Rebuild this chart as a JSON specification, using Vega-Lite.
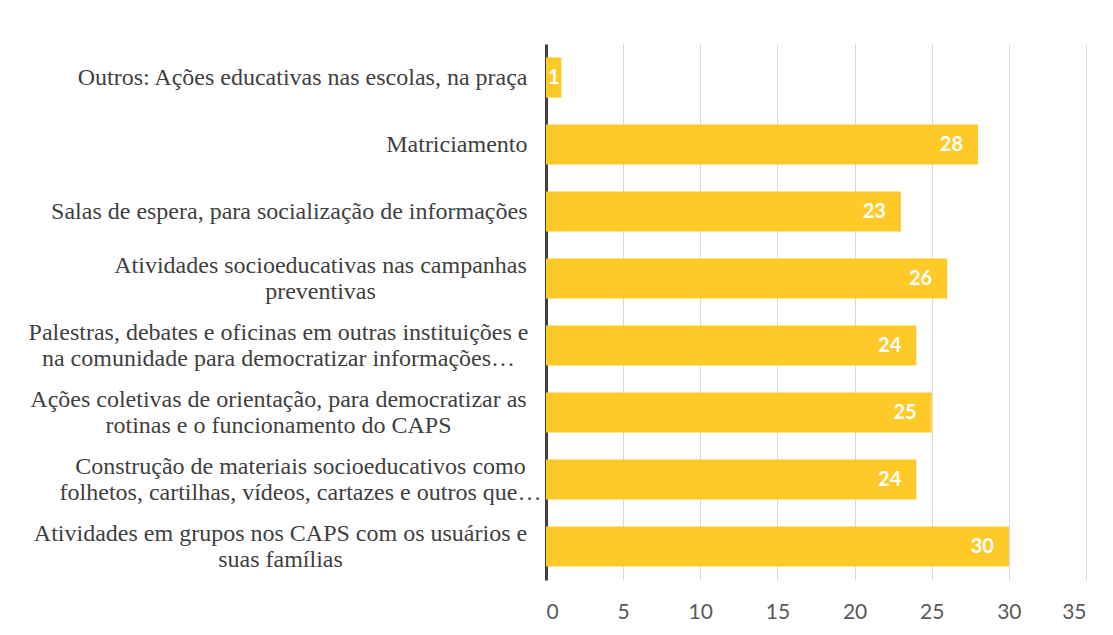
{
  "$schema": "https://vega.github.io/schema/vega-lite/v6.json",
  "width": 540,
  "height": 536,
  "autosize": "none",
  "padding": {"left": 546, "top": 44, "right": 27, "bottom": 55},
  "background": "white",
  "config": {"view": {"stroke": null}},
  "data": {
    "values": [
      {"categoria": "Outros: Ações educativas nas escolas, na praça", "valor": 1},
      {"categoria": "Matriciamento", "valor": 28},
      {"categoria": "Salas de espera, para socialização de informações", "valor": 23},
      {"categoria": "Atividades socioeducativas nas campanhas|preventivas", "valor": 26},
      {"categoria": "Palestras, debates e oficinas em outras instituições e|na comunidade para democratizar informações…", "valor": 24},
      {"categoria": "Ações coletivas de orientação, para democratizar as|rotinas e o funcionamento do CAPS", "valor": 25},
      {"categoria": "Construção de materiais socioeducativos como|folhetos, cartilhas, vídeos, cartazes e outros que…", "valor": 24},
      {"categoria": "Atividades em grupos nos CAPS com os usuários e|suas famílias", "valor": 30}
    ]
  },
  "encoding": {
    "y": {
      "field": "categoria",
      "type": "nominal",
      "sort": null,
      "scale": {"paddingInner": 0.4, "paddingOuter": 0.2},
      "axis": {
        "title": null,
        "ticks": false,
        "tickSize": 0,
        "grid": false,
        "domain": true,
        "domainColor": "#404040",
        "domainWidth": 3,
        "labelExpr": "split(datum.value, '|')",
        "labelFont": "Liberation Serif",
        "labelFontSize": 24,
        "labelLineHeight": 26,
        "labelColor": "#3F3F3F",
        "labelLimit": 0,
        "labelAlign": {"condition": {"test": "indexof(datum.value, '|') >= 0", "value": "center"}, "value": "right"},
        "labelOffset": {"condition": {"test": "indexof(datum.value, '|') >= 0", "value": -13}, "value": 0},
        "labelPadding": {"expr": "indexof(datum.value, 'Atividades socio') == 0 ? 226 : indexof(datum.value, 'Palestras') == 0 ? 268 : indexof(datum.value, 'Ações coletivas') == 0 ? 268 : indexof(datum.value, 'Construção') == 0 ? 246 : indexof(datum.value, 'Atividades em') == 0 ? 266 : 19"}
      }
    }
  },
  "layer": [
    {
      "mark": {"type": "bar", "color": "#FFC928"},
      "encoding": {
        "x": {
          "field": "valor",
          "type": "quantitative",
          "scale": {"domain": [0, 35], "nice": false},
          "axis": {
            "title": null,
            "values": [0, 5, 10, 15, 20, 25, 30, 35],
            "domain": false,
            "ticks": false,
            "tickSize": 0,
            "grid": true,
            "gridColor": "#D9D9D9",
            "gridWidth": 1,
            "labelFont": "Lato",
            "labelFontSize": 21,
            "labelColor": "#595959",
            "labelPadding": 21
          }
        }
      }
    },
    {
      "transform": [{"filter": "datum.valor >= 5"}],
      "mark": {"type": "text", "align": "right", "baseline": "middle", "dx": -15, "font": "Lato", "fontSize": 20, "fontWeight": "bold", "color": "white"},
      "encoding": {
        "x": {"field": "valor", "type": "quantitative"},
        "text": {"field": "valor", "type": "quantitative"}
      }
    },
    {
      "transform": [{"filter": "datum.valor < 5"}],
      "mark": {"type": "text", "align": "left", "baseline": "middle", "dx": 2, "font": "Lato", "fontSize": 20, "fontWeight": "bold", "color": "white"},
      "encoding": {
        "x": {"datum": 0, "type": "quantitative"},
        "text": {"field": "valor", "type": "quantitative"}
      }
    }
  ]
}
